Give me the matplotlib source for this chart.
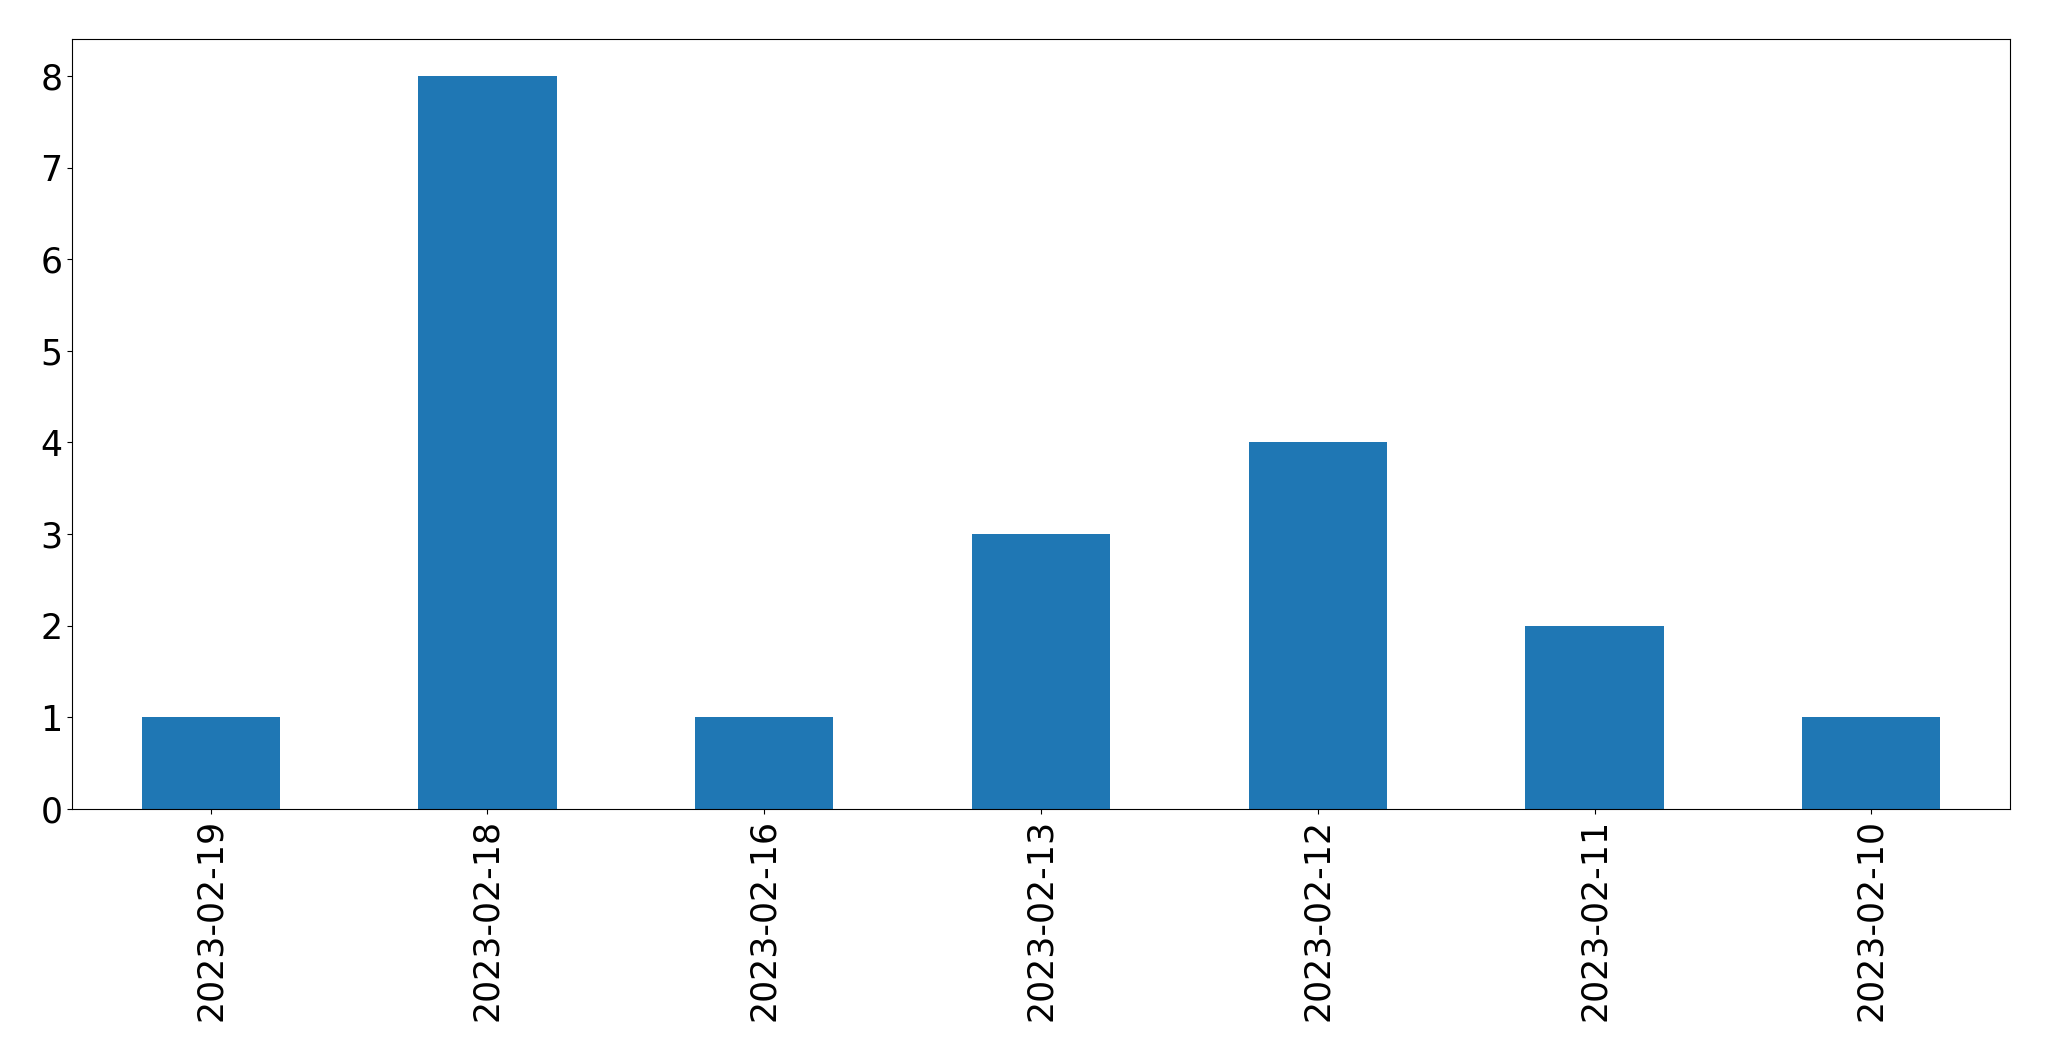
import pandas as pd
import matplotlib.pyplot as plt

dates = ['2023-02-19', '2023-02-18', '2023-02-16', '2023-02-13',
         '2023-02-12', '2023-02-11', '2023-02-10']
counts = [1, 8, 1, 3, 4, 2, 1]

s = pd.Series(counts, index=dates)

fig, ax = plt.subplots(figsize=(20.49, 10.61), dpi=100)
s.plot(kind='bar', ax=ax, color='#1f77b4', fontsize=25)
plt.subplots_adjust(left=0.0353, right=0.9808, top=0.963, bottom=0.2375)
plt.savefig("out.png", dpi=100)
plt.close()
